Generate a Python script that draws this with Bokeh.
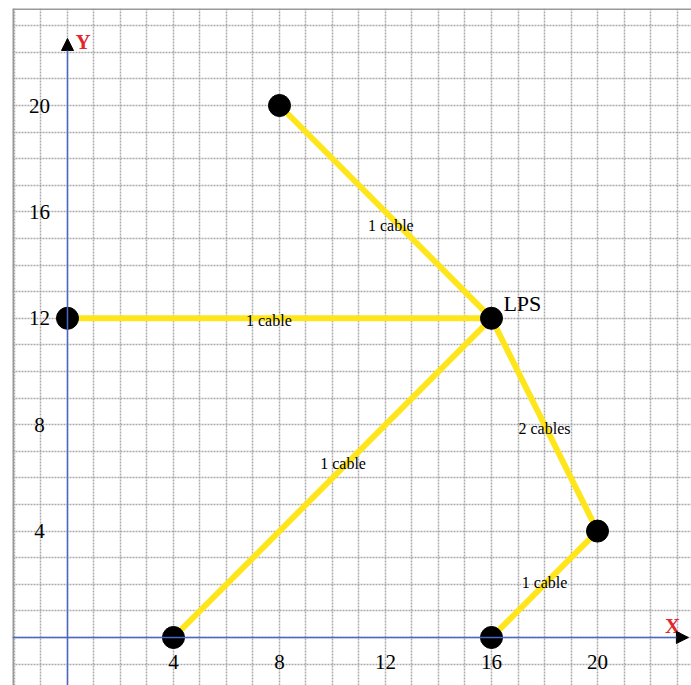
from bokeh.plotting import figure
from bokeh.models import SingleIntervalTicker, Arrow, NormalHead, Range1d, Grid, Span
from bokeh.core.properties import value
from bokeh.embed import file_html
from bokeh.resources import INLINE

# ---- data ----
node_x = [8, 0, 16, 4, 16, 20]
node_y = [20, 12, 12, 0, 0, 4]

edge_x0 = [8, 0, 4, 16, 20]
edge_y0 = [20, 12, 0, 12, 4]
edge_x1 = [16, 16, 16, 20, 16]
edge_y1 = [12, 12, 12, 4, 0]

edge_labels = ["1 cable", "1 cable", "1 cable", "2 cables", "1 cable"]
label_x = [12.2, 7.6, 10.4, 18.0, 18.0]
label_y = [15.5, 11.9, 6.55, 7.85, 2.05]

hub_name = ["LPS"]
hub_x = [16.45]
hub_y = [12.56]

x_ticks = [4, 8, 12, 16, 20]
y_ticks = [4, 8, 12, 16, 20]
x_tick_labels = [str(t) for t in x_ticks]
y_tick_labels = [str(t) for t in y_ticks]

axis_names = ["X", "Y"]
axis_name_x = [22.83, 0.3]
axis_name_y = [0.45, 22.37]
axis_name_align = ["center", "left"]

X_MIN, X_MAX = -2.075, 23.547
Y_MIN, Y_MAX = -1.805, 23.647
X_ARROW_TIP = 23.43
Y_ARROW_TIP = 22.52

SERIF = "Liberation Serif"
YELLOW = "#FFE61C"
AXIS_BLUE = "#4a66c8"

p = figure(width=691, height=685, output_backend="svg", toolbar_location=None,
           x_range=Range1d(X_MIN, X_MAX), y_range=Range1d(Y_MIN, Y_MAX),
           x_axis_type=None, y_axis_type=None,
           min_border_left=12, min_border_right=0, min_border_top=8, min_border_bottom=0)
p.outline_line_color = None

for dim in (0, 1):
    g = Grid(dimension=dim, ticker=SingleIntervalTicker(interval=1),
             grid_line_color="#9c9c9c", grid_line_dash="2 1", grid_line_width=1.5,
             grid_line_alpha=0.85)
    p.add_layout(g)

# left and top frame borders
p.add_layout(Span(location=X_MIN, dimension="height", line_color="#999999", line_width=3))
p.add_layout(Span(location=Y_MAX, dimension="width", line_color="#999999", line_width=3))

# axis lines with arrows
p.add_layout(Arrow(end=NormalHead(size=12, fill_color="black", line_color="black"),
                   x_start=X_MIN, y_start=0, x_end=X_ARROW_TIP, y_end=0,
                   line_color=AXIS_BLUE, line_width=1.5))
p.add_layout(Arrow(end=NormalHead(size=12, fill_color="black", line_color="black"),
                   x_start=0, y_start=Y_MIN, x_end=0, y_end=Y_ARROW_TIP,
                   line_color=AXIS_BLUE, line_width=1.5))

# cables
p.segment(edge_x0, edge_y0, edge_x1, edge_y1, line_color=YELLOW, line_width=6)

# nodes
p.scatter(node_x, node_y, size=22, color="black")

# cable labels
p.text(label_x, label_y, text=edge_labels, text_font=value(SERIF),
       text_font_size="16px", text_align="center", text_baseline="middle",
       text_color="black")

# hub label
p.text(hub_x, hub_y, text=hub_name, text_font=value(SERIF), text_font_size="22px",
       text_align="left", text_baseline="middle", text_color="black")

# tick labels
p.text(x_ticks, [0] * len(x_ticks), text=x_tick_labels, text_font=value(SERIF),
       text_font_size="21px", text_align="center", text_baseline="middle",
       y_offset=25, text_color="black")
p.text([0] * len(y_ticks), y_ticks, text=y_tick_labels, text_font=value(SERIF),
       text_font_size="21px", text_align="center", text_baseline="middle",
       x_offset=-28, text_color="black")

# axis names
p.text(axis_name_x, axis_name_y, text=axis_names, text_font=value(SERIF),
       text_font_size="21px", text_font_style="bold", text_align=axis_name_align,
       text_baseline="middle", text_color="#e3262b")

open("out.html", "w").write(file_html(p, INLINE))
